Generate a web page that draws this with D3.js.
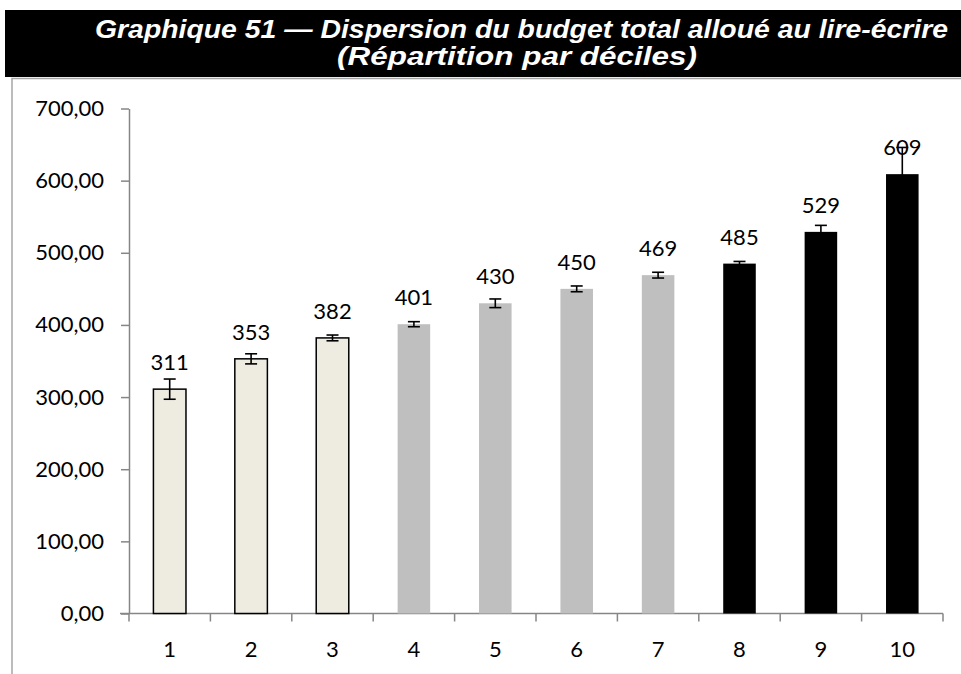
<!DOCTYPE html>
<html>
<head>
<meta charset="utf-8">
<script src="https://cdn.jsdelivr.net/npm/d3@7/dist/d3.min.js"></script>
<style>
  html, body { margin: 0; padding: 0; background: #fff; }
  svg { display: block; }
</style>
</head>
<body>
<svg id="chart" width="961" height="674"></svg>
<script>
// Budget total alloué au lire-écrire, par décile
const deciles = ["1", "2", "3", "4", "5", "6", "7", "8", "9", "10"];
const budget = [311, 353, 382, 401, 430, 450, 469, 485, 529, 609];
const errorMargin = [14, 7, 4, 3.5, 6, 4, 4, 3, 9, 37];
const yTicks = [0, 100, 200, 300, 400, 500, 600, 700];
const decileGroup = ["bas", "bas", "bas", "moyen", "moyen", "moyen", "moyen", "haut", "haut", "haut"];
const titleLines = [
  "Graphique 51 \u2014 Dispersion du budget total allou\u00e9 au lire-\u00e9crire",
  "(R\u00e9partition par d\u00e9ciles)"
];

const fillByGroup = { bas: "#EEECE1", moyen: "#BFBFBF", haut: "#000000" };
const strokeByGroup = { bas: "#000000", moyen: "none", haut: "none" };

const svg = d3.select("#chart");
const labelFont = "Lato, 'Open Sans', sans-serif";

// Title banner
svg.append("rect")
  .attr("x", 5).attr("y", 10)
  .attr("width", 961).attr("height", 67)
  .attr("fill", "#000");

const titleLayout = [
  { cx: 521.5, baseline: 38, width: 853 },
  { cx: 517, baseline: 65, width: 360 }
];

svg.append("g")
  .selectAll("text")
  .data(titleLines)
  .join("text")
  .attr("x", (d, i) => titleLayout[i].cx)
  .attr("y", (d, i) => titleLayout[i].baseline)
  .attr("text-anchor", "middle")
  .attr("fill", "#fff")
  .attr("font-family", "'Liberation Sans', Arial, sans-serif")
  .attr("font-weight", "bold")
  .attr("font-style", "italic")
  .attr("font-size", 25)
  .attr("textLength", (d, i) => titleLayout[i].width)
  .attr("lengthAdjust", "spacingAndGlyphs")
  .text(d => d);

// Frame around the plot
svg.append("path")
  .attr("d", "M12,674 L12,78.5 L961,78.5")
  .attr("fill", "none")
  .attr("stroke", "#A6A6A6")
  .attr("stroke-width", 1.5);

// Scales
const x = d3.scaleBand()
  .domain(deciles)
  .range([129, 943])
  .paddingInner(0.6)
  .paddingOuter(0.3);

const y = d3.scaleLinear()
  .domain([0, 700])
  .range([613.5, 108.5]);

const fmt = v => d3.format(".2f")(v).replace(".", ",");

// Y axis
const yAxis = svg.append("g")
  .attr("transform", "translate(129,0)")
  .call(d3.axisLeft(y).tickValues(yTicks).tickFormat(fmt).tickSize(8).tickSizeOuter(0).tickPadding(17));
yAxis.select(".domain").attr("stroke", "#868686").attr("stroke-width", 1.5);
yAxis.selectAll(".tick line").attr("stroke", "#868686").attr("stroke-width", 1.5);
yAxis.selectAll(".tick text")
  .attr("font-family", labelFont)
  .attr("font-size", 22)
  .attr("fill", "#000");

// X axis: ticks sit on the band boundaries
const boundaries = d3.range(deciles.length + 1).map(i => 129 + i * x.step());
const xAxisG = svg.append("g");
xAxisG.append("line")
  .attr("x1", 120).attr("x2", 943)
  .attr("y1", y(0)).attr("y2", y(0))
  .attr("stroke", "#868686").attr("stroke-width", 1.5);
xAxisG.selectAll("line.tick")
  .data(boundaries)
  .join("line")
  .attr("class", "tick")
  .attr("x1", d => d).attr("x2", d => d)
  .attr("y1", y(0)).attr("y2", y(0) + 8)
  .attr("stroke", "#868686").attr("stroke-width", 1.5);
xAxisG.selectAll("text")
  .data(deciles)
  .join("text")
  .attr("x", d => x(d) + x.bandwidth() / 2)
  .attr("y", 657)
  .attr("text-anchor", "middle")
  .attr("font-family", labelFont)
  .attr("font-size", 22)
  .attr("fill", "#000")
  .text(d => d);

// Bars
const rows = deciles.map((d, i) => ({
  decile: d, value: budget[i], err: errorMargin[i], group: decileGroup[i]
}));

svg.append("g")
  .selectAll("rect")
  .data(rows)
  .join("rect")
  .attr("x", d => x(d.decile))
  .attr("y", d => y(d.value))
  .attr("width", x.bandwidth())
  .attr("height", d => y(0) - y(d.value))
  .attr("fill", d => fillByGroup[d.group])
  .attr("stroke", d => strokeByGroup[d.group])
  .attr("stroke-width", 1.5);

// Error bars
const capHalf = 6;
const err = svg.append("g")
  .attr("stroke", "#000")
  .attr("stroke-width", 1.6)
  .selectAll("g")
  .data(rows)
  .join("g")
  .attr("transform", d => `translate(${x(d.decile) + x.bandwidth() / 2},0)`);
err.append("line")
  .attr("y1", d => y(d.value + d.err))
  .attr("y2", d => y(d.value - d.err));
err.append("line")
  .attr("x1", -capHalf).attr("x2", capHalf)
  .attr("y1", d => y(d.value + d.err)).attr("y2", d => y(d.value + d.err));
err.append("line")
  .attr("x1", -capHalf).attr("x2", capHalf)
  .attr("y1", d => y(d.value - d.err)).attr("y2", d => y(d.value - d.err));

// Value labels
svg.append("g")
  .selectAll("text")
  .data(rows)
  .join("text")
  .attr("x", d => x(d.decile) + x.bandwidth() / 2)
  .attr("y", d => y(d.value) - 19)
  .attr("text-anchor", "middle")
  .attr("font-family", labelFont)
  .attr("font-size", 22)
  .attr("fill", "#000")
  .text(d => d3.format("d")(d.value));
</script>
</body>
</html>
